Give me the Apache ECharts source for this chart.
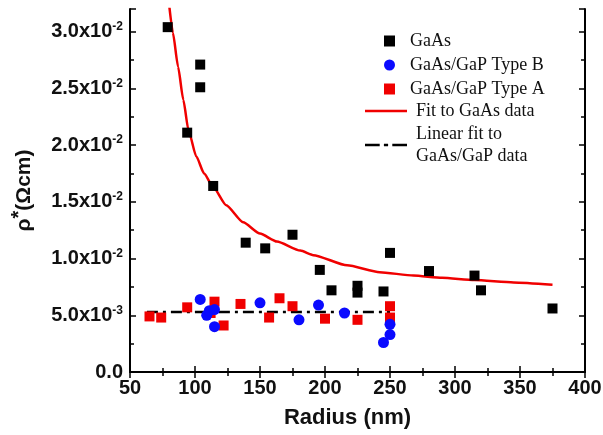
<!DOCTYPE html>
<html>
<head>
<meta charset="utf-8">
<script src="https://cdn.jsdelivr.net/npm/echarts@6/dist/echarts.min.js"></script>
<style>
  html, body { margin: 0; padding: 0; background: #fff; }
  #chart { width: 603px; height: 435px; }
</style>
</head>
<body>
<div id="chart"></div>
<script>
// GaAs nanowires
const gaasRadius = [79, 104, 104, 94, 114, 139, 154, 175, 196, 205, 225, 225, 245, 250, 280, 315, 320, 375]
const gaasRho = [0.0304, 0.0271, 0.0251, 0.0211, 0.0164, 0.0114, 0.0109, 0.0121, 0.0090, 0.0072, 0.0076, 0.0070, 0.0071, 0.0105, 0.0089, 0.0085, 0.0072, 0.0056]

// GaAs/GaP Type B
const typeBRadius = [104, 109, 111, 115, 115, 150, 180, 195, 215, 245, 250, 250]
const typeBRho = [0.0064, 0.0050, 0.0054, 0.0055, 0.0040, 0.0061, 0.0046, 0.0059, 0.0052, 0.0026, 0.0033, 0.0042]

// GaAs/GaP Type A
const typeARadius = [65, 74, 94, 112, 115, 122, 135, 157, 165, 175, 200, 225, 250, 250]
const typeARho = [0.0049, 0.0048, 0.0057, 0.0052, 0.0062, 0.0041, 0.0060, 0.0048, 0.0065, 0.0058, 0.0047, 0.0046, 0.0058, 0.0048]

// fit curve
const fitRadius = [80, 83, 87, 91, 95, 101, 107, 114, 124, 137, 150, 163, 181, 191, 217, 242, 268, 290, 315, 345, 375]
const fitRho = [0.0325, 0.0299, 0.0269, 0.0240, 0.0213, 0.0190, 0.0175, 0.0163, 0.0147, 0.0132, 0.0122, 0.0115, 0.0107, 0.0103, 0.0094, 0.0088, 0.0085, 0.0083, 0.0081, 0.0079, 0.0077]

// linear fit to GaAs/GaP
const linRadius = [63, 250]
const linRho = [0.0053, 0.0053]

const zip = (xs, ys) => xs.map((x, i) => [x, ys[i]])

const sciLabel = (v) => {
  if (Math.abs(v) < 1e-12) return '{b|0.0}'
  const e = Math.floor(Math.log10(v) + 1e-9)
  const m = v / Math.pow(10, e)
  return '{b|' + m.toFixed(1) + 'x10}{s|' + e + '}'
}

const font = 'Liberation Sans, Arial, sans-serif'
const serif = 'Liberation Serif, Times New Roman, serif'

const tickStyle = { color: '#000', width: 1.5 }

const chart = echarts.init(document.getElementById('chart'))

const option = {
  backgroundColor: '#fff',
  animation: false,
  grid: { left: 130, right: 18, top: 9, bottom: 63, outerBoundsMode: 'none', containLabel: false },
  legend: [
    {
      orient: 'vertical',
      left: 379,
      top: 27,
      itemWidth: 11,
      itemHeight: 11,
      itemGap: 6,
      textStyle: { fontFamily: serif, fontSize: 18, color: '#111', padding: [0, 0, 0, 10] },
      data: [
        { name: 'GaAs', icon: 'rect' },
        { name: 'GaAs/GaP Type B', icon: 'circle' },
        { name: 'GaAs/GaP Type A', icon: 'rect' }
      ]
    },
    {
      orient: 'vertical',
      left: 360,
      top: 95,
      itemWidth: 42,
      itemHeight: 12,
      itemGap: 1,
      textStyle: { fontFamily: serif, fontSize: 18, color: '#111', lineHeight: 22, padding: [0, 0, 0, 4] },
      data: [
        { name: 'Fit to GaAs data', icon: 'path://M0,0H40V2.6H0Z' },
        { name: 'Linear fit to\nGaAs/GaP data', icon: 'path://M0,0H14V2.6H0ZM18,0H22V2.6H18ZM26,0H40V2.6H26Z' }
      ]
    }
  ],
  xAxis: [
    {
      type: 'value',
      min: 50,
      max: 400,
      interval: 50,
      position: 'bottom',
      axisLine: { lineStyle: { color: '#000', width: 2 } },
      axisTick: { inside: true, length: 6, lineStyle: tickStyle },
      minorTick: { show: true, splitNumber: 2, length: 4, lineStyle: tickStyle },
      splitLine: { show: false },
      axisLabel: { color: '#111', fontFamily: font, fontWeight: 'bold', fontSize: 20, margin: 6 },
      name: 'Radius (nm)',
      nameLocation: 'middle',
      nameGap: 35,
      nameTextStyle: { color: '#111', fontFamily: font, fontWeight: 'bold', fontSize: 22, padding: [0, 20, 0, 0] }
    },
    {
      type: 'value',
      min: 50,
      max: 400,
      interval: 50,
      position: 'top',
      axisLine: { lineStyle: { color: '#000', width: 2 } },
      axisTick: { inside: true, length: 6, lineStyle: tickStyle },
      minorTick: { show: true, splitNumber: 2, length: 4, lineStyle: tickStyle },
      splitLine: { show: false },
      axisLabel: { show: false }
    }
  ],
  yAxis: [
    {
      type: 'value',
      min: 0,
      max: 0.032,
      interval: 0.005,
      position: 'left',
      axisLine: { show: true, lineStyle: { color: '#000', width: 2 } },
      axisTick: { show: true, inside: true, length: 6, lineStyle: tickStyle },
      minorTick: { show: true, splitNumber: 2, length: 4, lineStyle: tickStyle },
      splitLine: { show: false },
      axisLabel: {
        showMaxLabel: false,
        margin: 7,
        formatter: sciLabel,
        rich: {
          b: { color: '#111', fontFamily: font, fontWeight: 'bold', fontSize: 20 },
          s: { color: '#111', fontFamily: font, fontWeight: 'bold', fontSize: 12, padding: [0, 0, 10, 0] }
        }
      },
      name: 'ρ{s|*}(Ωcm)',
      nameLocation: 'middle',
      nameRotate: 90,
      nameGap: 91,
      nameTextStyle: {
        rich: {
          s: { color: '#111', fontFamily: font, fontWeight: 'bold', fontSize: 20, padding: [0, 0, 10, 0] }
        },
        color: '#111', fontFamily: font, fontWeight: 'bold', fontSize: 21
      }
    },
    {
      type: 'value',
      min: 0,
      max: 0.032,
      interval: 0.005,
      position: 'right',
      axisLine: { show: true, lineStyle: { color: '#000', width: 2 } },
      axisTick: { show: true, inside: true, length: 6, lineStyle: tickStyle },
      minorTick: { show: true, splitNumber: 2, length: 4, lineStyle: tickStyle },
      splitLine: { show: false },
      axisLabel: { show: false }
    }
  ],
  series: [
    {
      name: 'Fit to GaAs data',
      type: 'line',
      smooth: 0.2,
      smoothMonotone: 'x',
      symbol: 'none',
      clip: true,
      lineStyle: { color: '#f00000', width: 2.5 },
      itemStyle: { color: '#f00000' },
      data: zip(fitRadius, fitRho),
      z: 2
    },
    {
      name: 'Linear fit to\nGaAs/GaP data',
      type: 'line',
      symbol: 'none',
      lineStyle: { color: '#000', width: 2.5, type: [11, 5, 3, 5] },
      itemStyle: { color: '#000' },
      data: zip(linRadius, linRho),
      z: 2
    },
    {
      name: 'GaAs',
      type: 'scatter',
      symbol: 'rect',
      symbolSize: 10,
      itemStyle: { color: '#000', opacity: 1 },
      data: zip(gaasRadius, gaasRho),
      z: 3
    },
    {
      name: 'GaAs/GaP Type B',
      type: 'scatter',
      symbol: 'circle',
      symbolSize: 11,
      itemStyle: { color: '#0a0aff', opacity: 1 },
      data: zip(typeBRadius, typeBRho),
      z: 4
    },
    {
      name: 'GaAs/GaP Type A',
      type: 'scatter',
      symbol: 'rect',
      symbolSize: 10,
      itemStyle: { color: '#f00000', opacity: 1 },
      data: zip(typeARadius, typeARho),
      z: 3
    }
  ]
}

chart.setOption(option)
</script>
</body>
</html>
